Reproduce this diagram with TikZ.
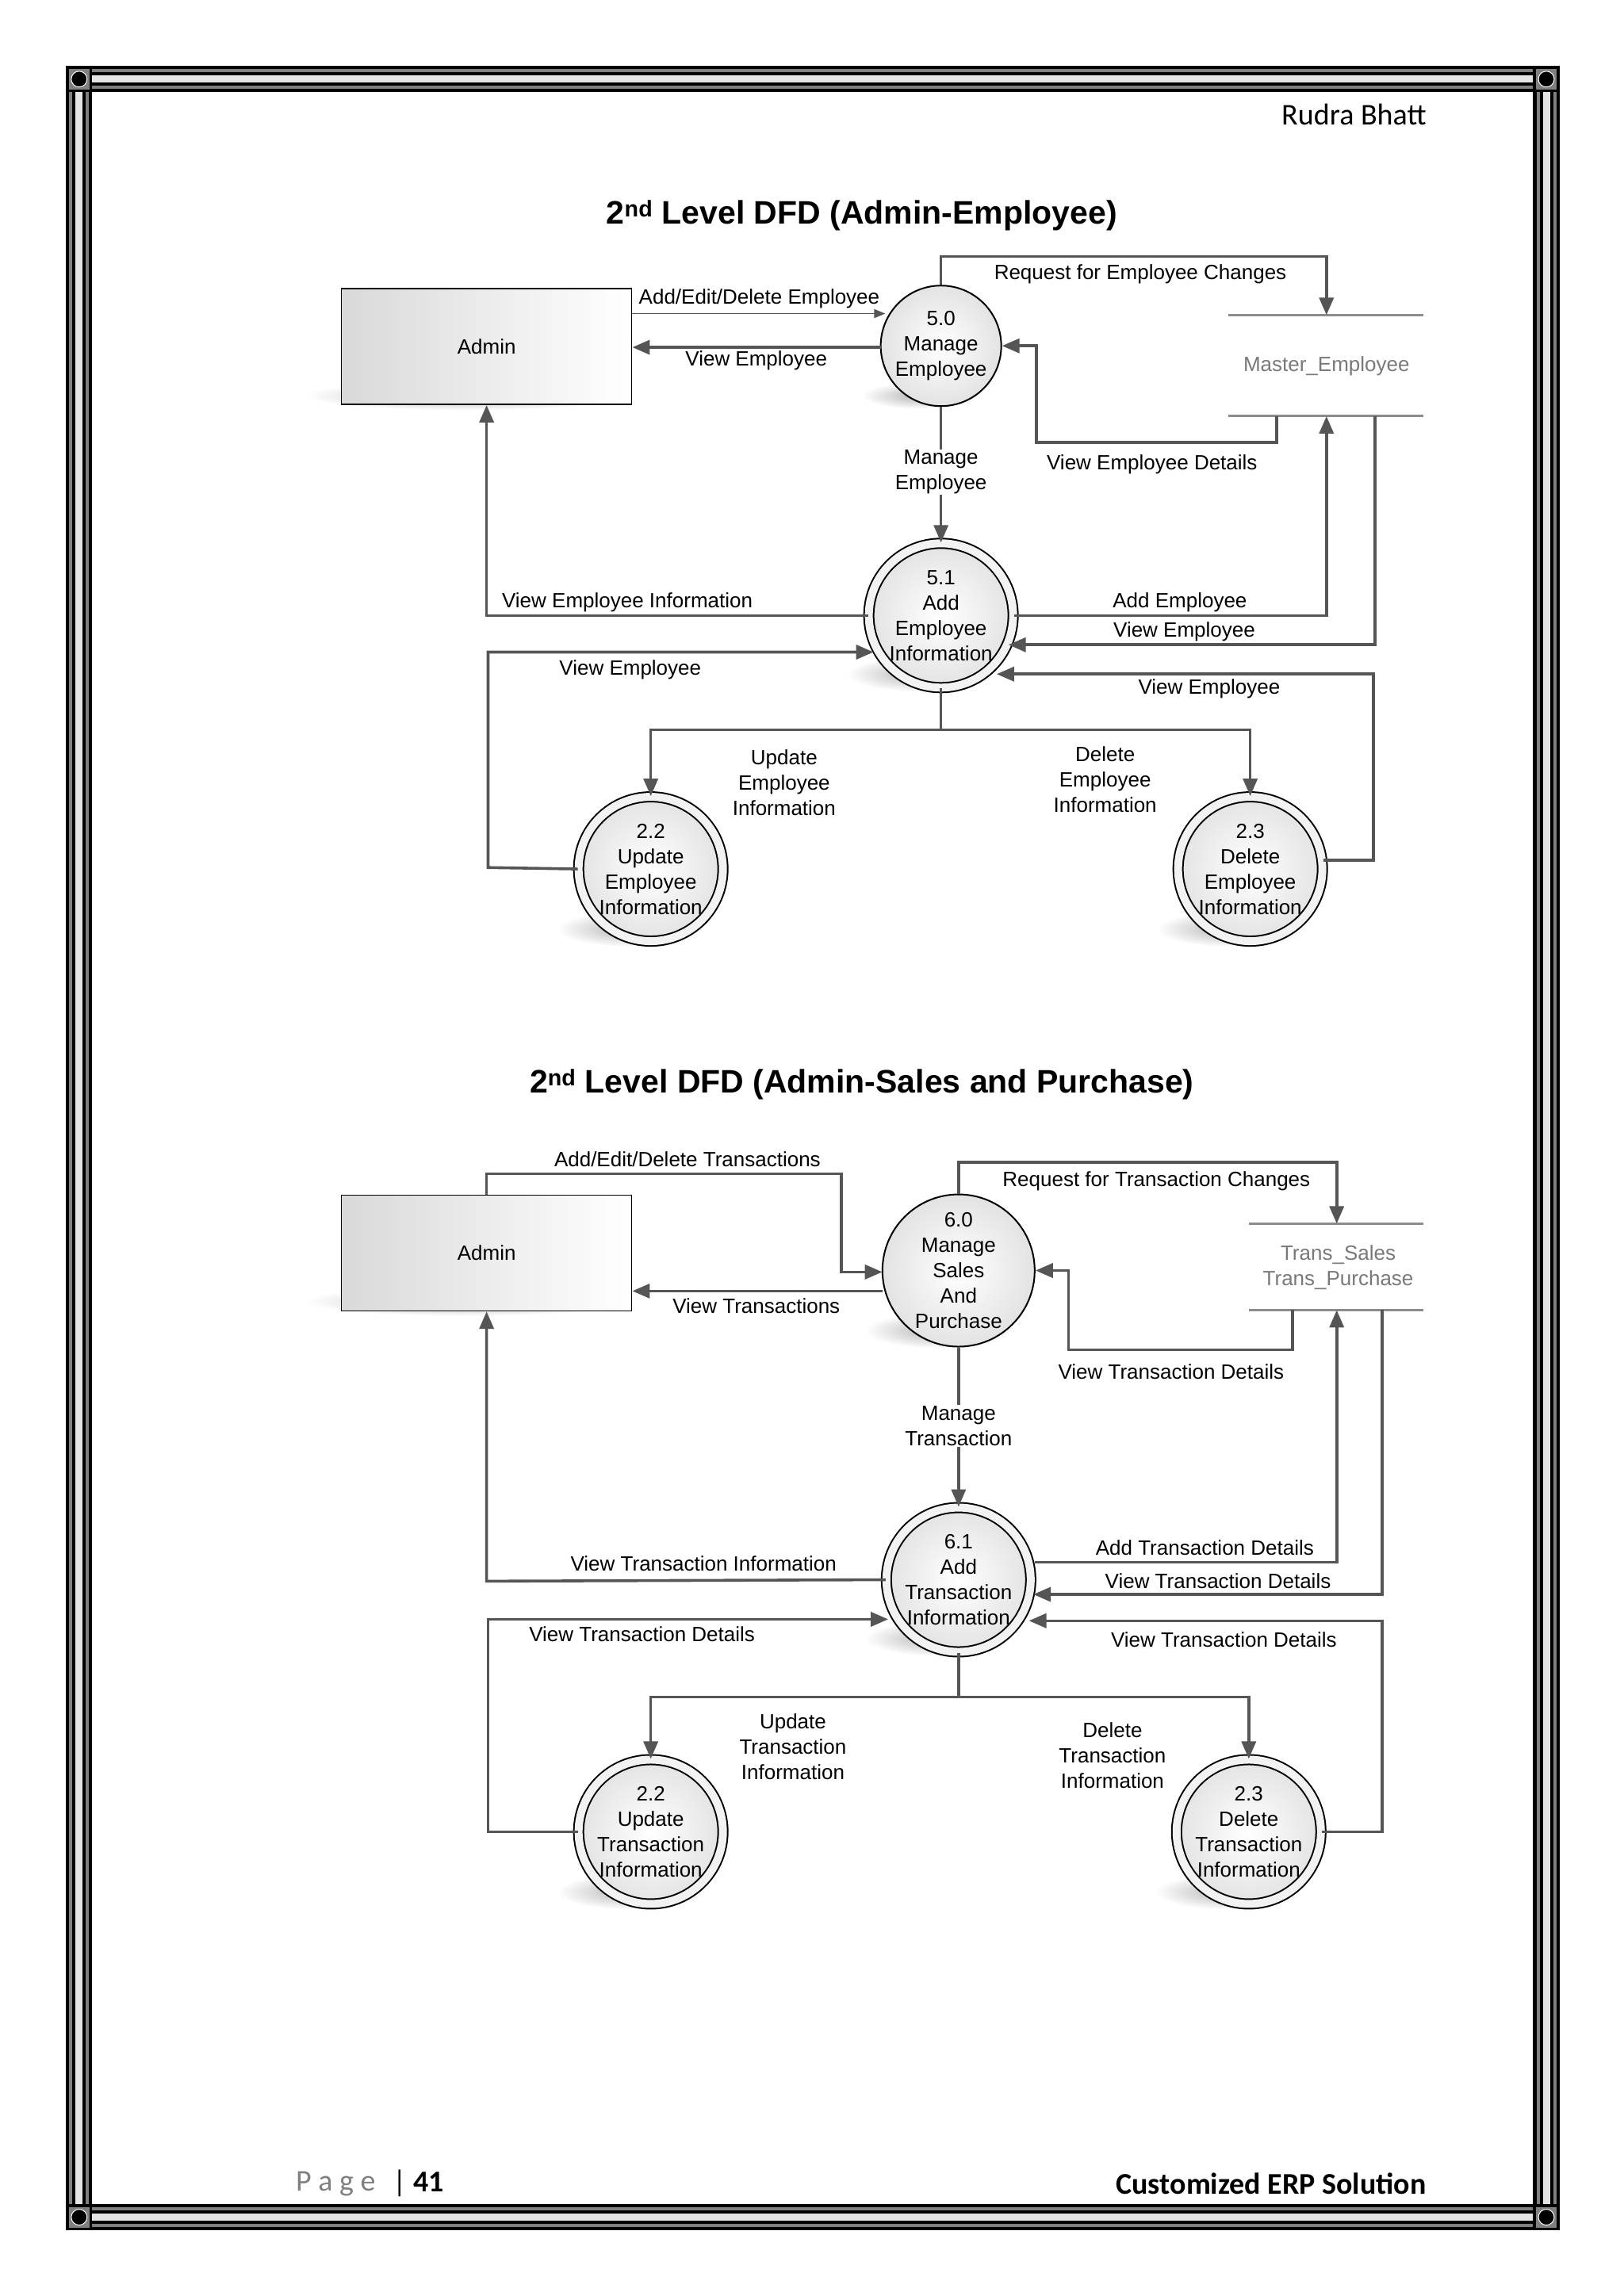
\documentclass[tikz,border=0pt]{standalone}
\usepackage{fontspec}
\setmainfont{Liberation Sans}
\newfontfamily\calfont{Carlito}
\usetikzlibrary{arrows.meta,shapes.geometric}
\definecolor{lc}{HTML}{555555}
\begin{document}
\begin{tikzpicture}[x=1.8484pt,y=-1.8484pt,
 flow/.style={draw=lc,line width=3.6pt,-{Triangle[length=22pt,width=18pt]}},
 lbl/.style={font=\fontsize{26}{32}\selectfont,align=center,inner sep=1pt},
 wl/.style={lbl,fill=white},
 proc/.style={circle,minimum size=192pt,inner sep=0pt,draw=black,line width=2pt,inner color=white,outer color=gray!22,align=center,font=\fontsize{26}{32}\selectfont},
 dproc/.style={proc,double=gray!10,double distance=10pt,line width=2pt,minimum size=182pt},
 ent/.style={rectangle,draw=black,line width=1.6pt,minimum width=366pt,minimum height=146pt,left color=gray!30,right color=white,font=\fontsize{26}{32}\selectfont},
 store/.style={draw=gray!90,line width=3pt},
 stxt/.style={lbl,text=gray!95!black},
 shad/.style={inner color=gray!60,outer color=white}]
\useasboundingbox (0,0) rectangle (1108,1566.8);
% border
\fill[black] (45,45) rectangle (1064,1522);
\fill[white] (63,63) rectangle (1046,1504);
\draw[gray,line width=4pt] (48.2,48.2) rectangle (1060.8,1518.8);
\draw[gray!20,line width=9pt] (53.8,53.8) rectangle (1055.2,1513.2);
\draw[gray,line width=4pt] (59.5,59.5) rectangle (1049.5,1507.5);
\foreach \cx/\cy in {45/45,1046/45,45/1504,1046/1504}{
 \fill[black] (\cx,\cy) rectangle ++(18,18);
 \fill[gray] (\cx+2,\cy+2) rectangle ++(14,14);
 \draw[white,fill=black,line width=1pt] (\cx+9,\cy+9) circle (5.4);
}
\node[font=\calfont\fontsize{38}{44}\selectfont,anchor=east] (author) at (975,78) {Rudra Bhatt};
\node[font=\calfont\fontsize{38}{44}\selectfont,anchor=west,text=gray] (pg) at (200,1490) {P a g e};
\node[font=\calfont\bfseries\fontsize{38}{44}\selectfont,anchor=west] (pgn) at (266,1490) {\textcolor{black}{\mdseries|} 41};
\node[font=\calfont\bfseries\fontsize{38}{44}\selectfont,anchor=east] (foot) at (975,1490) {Customized ERP Solution};

% ============ Diagram 1
\node[font=\bfseries\fontsize{41}{48}\selectfont] (t1) at (588,147) {2\textsuperscript{nd} Level DFD (Admin-Employee)};
\shade[shad] (318,270) ellipse (110 and 10);
\shade[shad] (628,270) ellipse (40 and 9);
\shade[shad] (628,460) ellipse (50 and 12);
\shade[shad] (430,634) ellipse (50 and 12);
\shade[shad] (839,634) ellipse (50 and 12);
\node[ent] (a1) at (332,236.5) {Admin};
\node[proc,minimum size=152pt] (p50) at (642,236) {5.0\\Manage\\Employee};
\node[dproc] (p51) at (642,420) {5.1\\Add\\Employee\\Information};
\node[dproc] (p22) at (444,593) {2.2\\Update\\Employee\\Information};
\node[dproc] (p23) at (853,593) {2.3\\Delete\\Employee\\Information};
\draw[store] (838,215) -- (971,215) (838,284) -- (971,284);
\node[stxt] (s1) at (905,250) {Master\_Employee};
\coordinate (s1t) at (905,215); \coordinate (s1b) at (905,284);

\draw[draw=lc,line width=1.8pt,-{Triangle[length=14pt,width=11pt]}] (431,214) -- (604,214);
\node[lbl] at (518,204) {Add/Edit/Delete Employee};
\draw[flow] (601,237) -- (a1.east|-0,237);
\node[lbl] at (516,246) {View Employee};
\draw[flow] (p50.north) -- (642,175) -| (s1t);
\node[lbl] at (778,187) {Request for Employee Changes};
\draw[flow] (871,284) -- (871,302) -- (707,302) -- (707,236) -- (p50.east);
\node[lbl] at (786,317) {View Employee Details};
\draw[flow] (p50.south) -- (p51.north);
\node[wl] at (642,322) {Manage\\Employee};
\draw[flow] (p51.west) -- (332,420) -- (a1.south);
\node[lbl] at (428,411) {View Employee Information};
\draw[flow] (p51.east) -- (905,420) -- (s1b);
\node[lbl] at (805,411) {Add Employee};
\draw[flow] (938,284) -- (938,440) -- (688,440);
\node[lbl] at (808,431) {View Employee};
\draw[flow] (p22.west) -- (333,592) -- (333,445) -- (596,445);
\node[lbl] at (430,457) {View Employee};
\draw[flow] (903,587) -- (937,587) -- (937,460) -- (680,460);
\node[lbl] at (825,470) {View Employee};
\draw[draw=lc,line width=3.6pt] (p51.south) -- (642,498);
\draw[flow] (642,498) -| (p22.north);
\draw[flow] (642,498) -| (p23.north);
\node[lbl] at (535,534) {Update\\Employee\\Information};
\node[lbl] at (754,532) {Delete\\Employee\\Information};

% ============ Diagram 2
\node[font=\bfseries\fontsize{41}{48}\selectfont] (t2) at (588,740) {2\textsuperscript{nd} Level DFD (Admin-Sales and Purchase)};
\shade[shad] (318,888) ellipse (110 and 10);
\shade[shad] (640,908) ellipse (50 and 12);
\shade[shad] (640,1118) ellipse (50 and 12);
\shade[shad] (430,1291) ellipse (50 and 12);
\shade[shad] (838,1291) ellipse (50 and 12);
\node[ent] (a2) at (332,855) {Admin};
\node[proc] (p60) at (654,867) {6.0\\Manage\\Sales\\And\\Purchase};
\node[dproc] (p61) at (654,1078) {6.1\\Add\\Transaction\\Information};
\node[dproc] (q22) at (444,1250) {2.2\\Update\\Transaction\\Information};
\node[dproc] (q23) at (852,1250) {2.3\\Delete\\Transaction\\Information};
\draw[store] (852,835) -- (971,835) (852,894) -- (971,894);
\node[stxt] (s2) at (913,865) {Trans\_Sales\\Trans\_Purchase};
\coordinate (s2t) at (912,835); \coordinate (s2b) at (912,894);

\draw[flow] (a2.north) -- (332,801) -- (574,801) -- (574,868) -- (602,868);
\node[lbl] at (469,791) {Add/Edit/Delete Transactions};
\draw[flow] (602,881) -- (a2.east|-0,881);
\node[lbl] at (516,891) {View Transactions};
\draw[flow] (p60.north) -- (654,793) -| (s2t);
\node[lbl] at (789,806) {Request for Transaction Changes};
\draw[flow] (882,894) -- (882,921) -- (729,921) -- (729,867) -- (p60.east);
\node[lbl] at (799,936) {View Transaction Details};
\draw[flow] (p60.south) -- (p61.north);
\node[wl] at (654,973) {Manage\\Transaction};
\draw[flow] (p61.west) -- (332,1079) -- (a2.south);
\node[lbl] at (480,1067) {View Transaction Information};
\draw[flow] (706,1066) -- (912,1066) -- (s2b);
\node[lbl] at (822,1056) {Add Transaction Details};
\draw[flow] (943,894) -- (943,1088) -- (705,1088);
\node[lbl] at (831,1079) {View Transaction Details};
\draw[flow] (q22.west) -- (333,1250) -- (333,1105) -- (606,1105);
\node[lbl] at (438,1115) {View Transaction Details};
\draw[flow] (q23.east) -- (943,1250) -- (943,1106) -- (702,1106);
\node[lbl] at (835,1119) {View Transaction Details};
\draw[draw=lc,line width=3.6pt] (p61.south) -- (654,1158);
\draw[flow] (654,1158) -| (q22.north);
\draw[flow] (654,1158) -| (q23.north);
\node[lbl] at (541,1192) {Update\\Transaction\\Information};
\node[lbl] at (759,1198) {Delete\\Transaction\\Information};
\end{tikzpicture}
\end{document}
